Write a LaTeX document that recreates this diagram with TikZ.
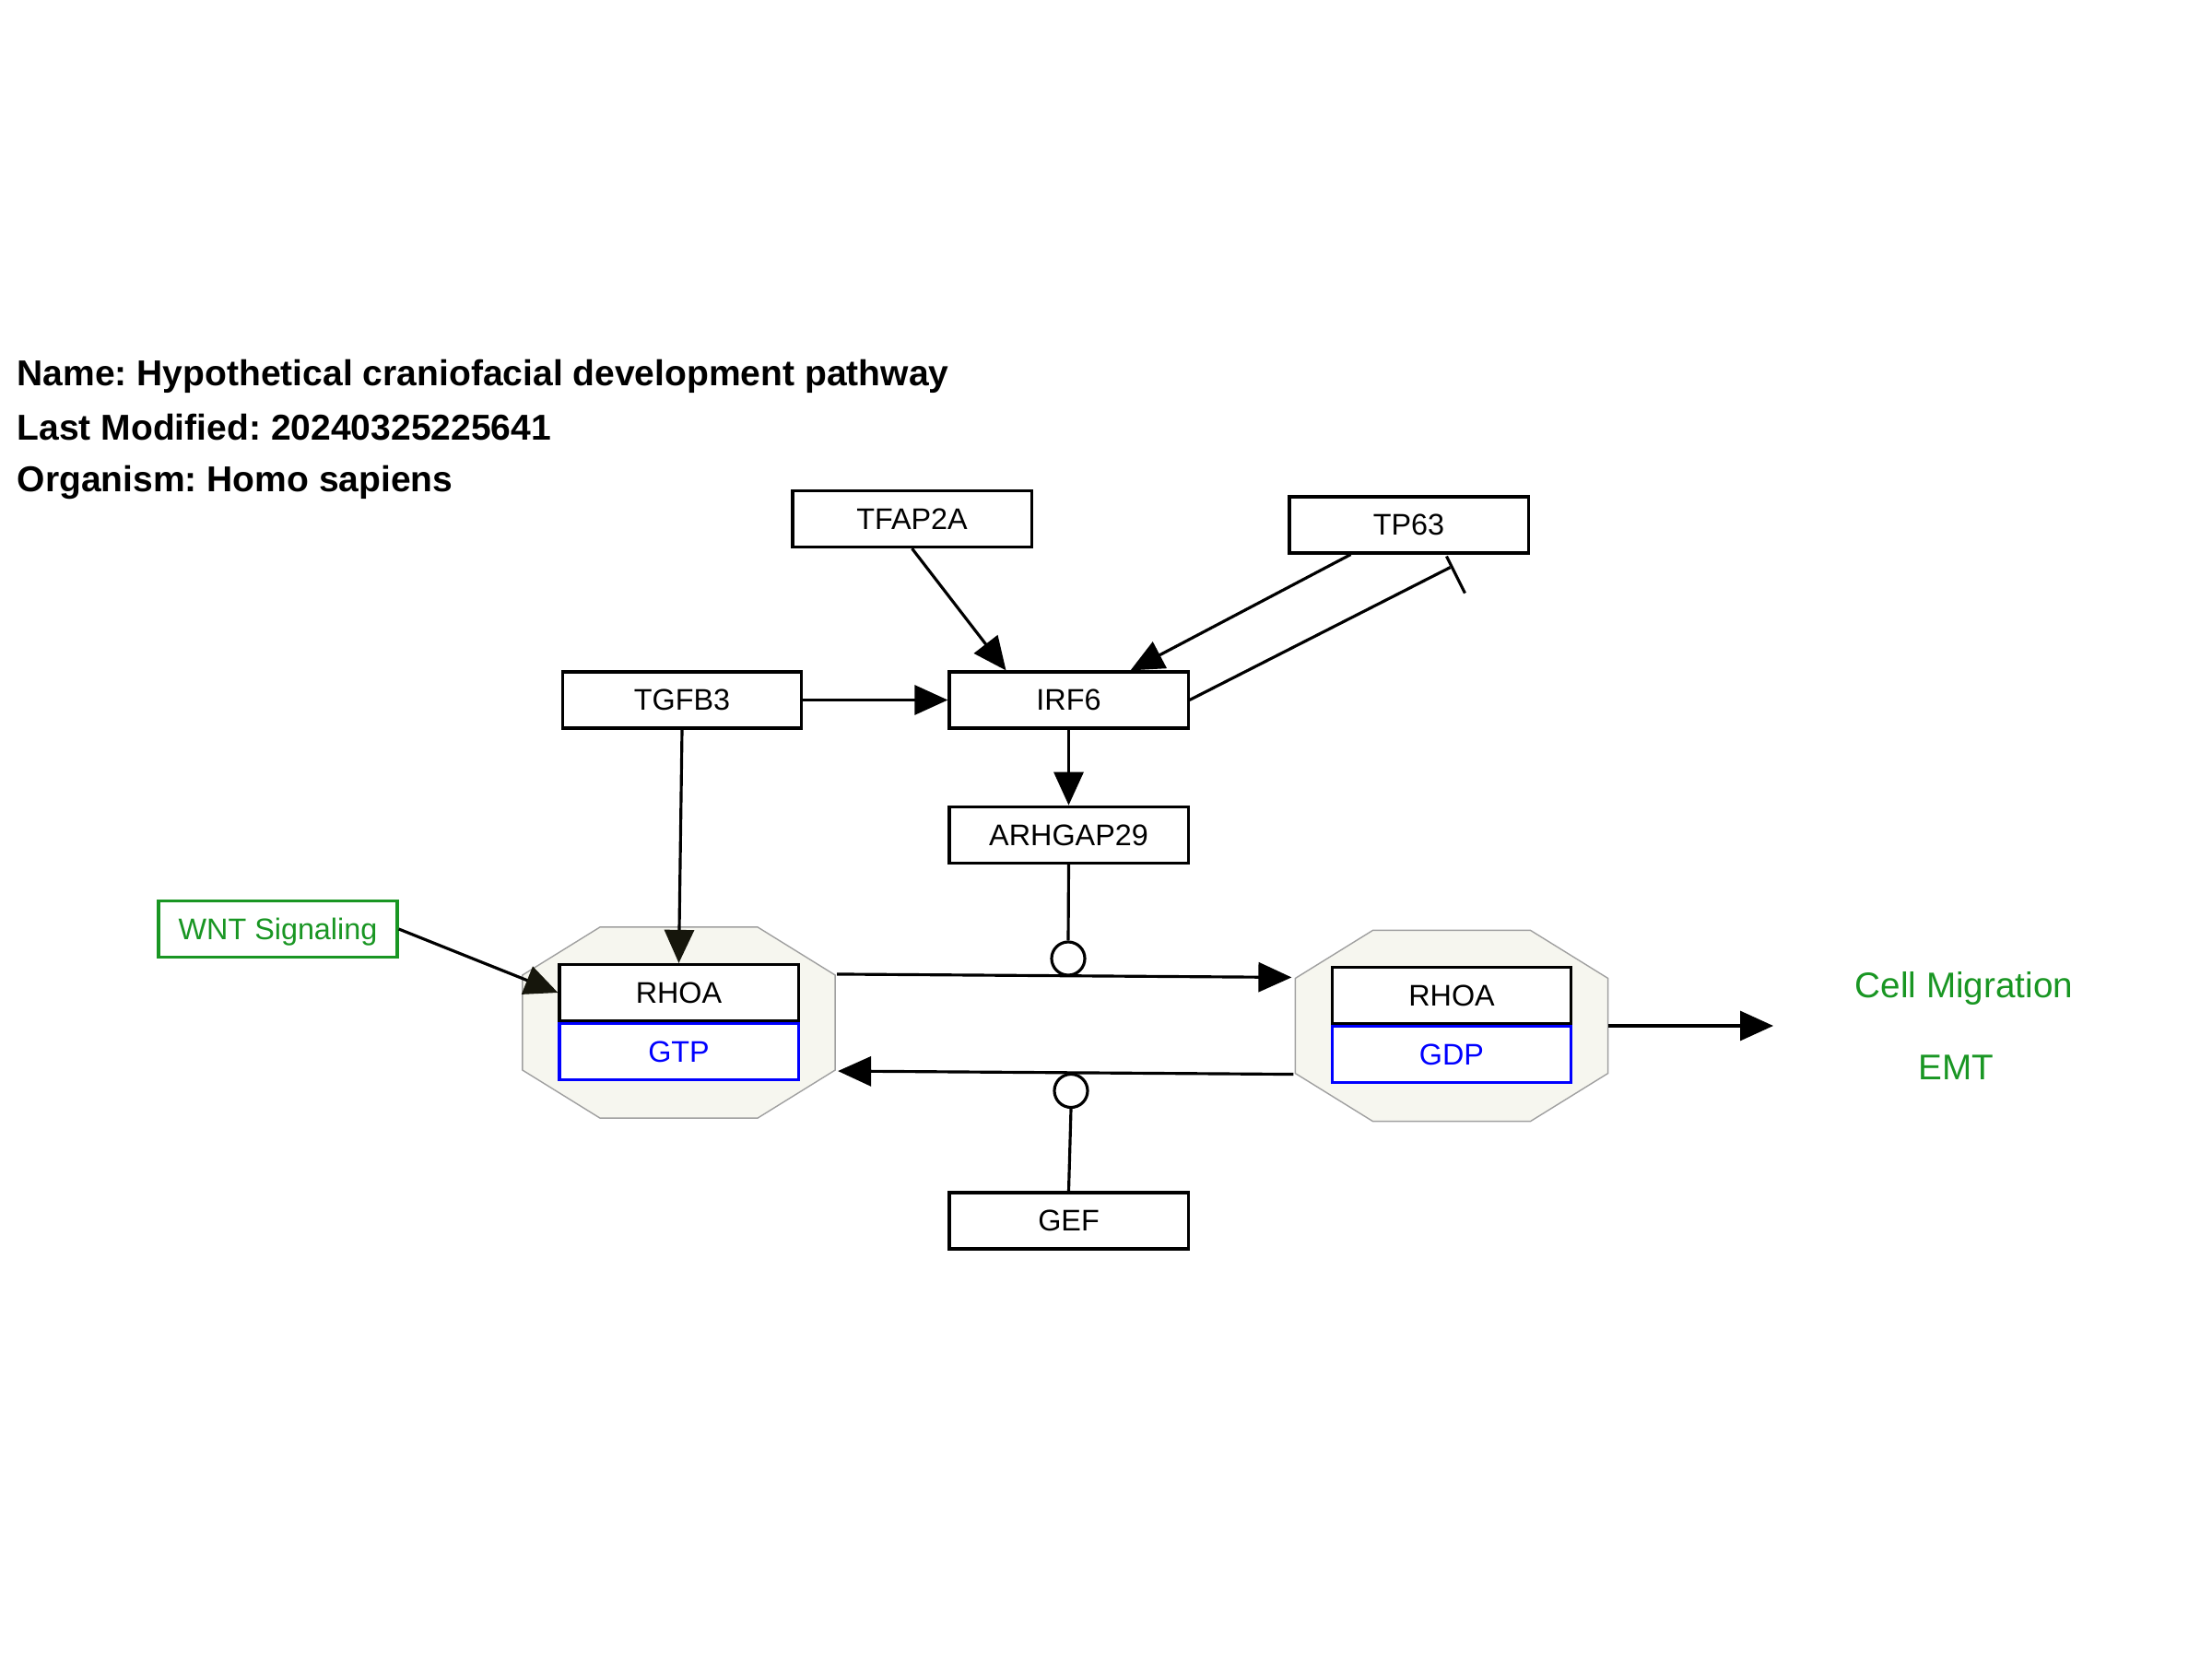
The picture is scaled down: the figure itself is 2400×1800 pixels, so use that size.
\documentclass[tikz,border=0pt]{standalone}
\usepackage{fontspec}
\setmainfont{Liberation Sans}
\usepackage{tikz}
\usetikzlibrary{arrows.meta, positioning, calc}
\usepackage{xcolor}
\frenchspacing
\definecolor{cGreen}{RGB}{25,150,35}
\definecolor{cBlue}{RGB}{0,0,255}
\definecolor{cCplx}{RGB}{246,246,239}
\definecolor{cCplxLine}{RGB}{160,160,160}
\definecolor{cTip}{RGB}{22,22,12}
\tikzset{
  genebox/.style={rectangle, draw=black, line width=0.9pt, fill=white,
                  minimum width=2.59cm, minimum height=0.61cm, inner sep=0pt,
                  text depth=0pt, font=\fontsize{9.2}{11}\selectfont},
  statebox/.style={genebox, draw=cBlue, text=cBlue},
  pathbox/.style={genebox, draw=cGreen, text=cGreen},
  cplxnode/.style={rectangle, minimum width=3.39cm, minimum height=2.07cm,
                   inner sep=0pt, outer sep=0pt},
  cplxshape/.style={fill=cCplx, draw=cCplxLine, line width=0.4pt},
  catnode/.style={circle, draw=black, line width=0.9pt, fill=white,
                  minimum size=0.36cm, inner sep=0pt},
  labelnode/.style={anchor=base, inner sep=0pt, text=cGreen,
                    font=\fontsize{11}{13}\selectfont},
  headnode/.style={anchor=base west, inner sep=0pt,
                   font=\fontsize{11.1}{13}\selectfont\bfseries},
  arrow/.style={-{Triangle[length=0.36cm, width=0.32cm]}, line width=0.9pt},
  darkarrow/.style={-{Triangle[length=0.36cm, width=0.32cm, color=cTip]},
                    line width=0.9pt},
  plainline/.style={line width=0.9pt}
}

\begin{document}
\begin{tikzpicture}[x=0.01cm, y=-0.01cm]
  \useasboundingbox (0,0) rectangle (2400,1800);

  % Header
  \node[headnode] (hname) at (18,418) {Name: Hypothetical craniofacial development pathway};
  \node[headnode] (hdate) at (18,477) {Last Modified: 20240325225641};
  \node[headnode] (horg)  at (18,533) {Organism: Homo sapiens};

  % Complexes
  \node[cplxnode] (gtpcx) at (736.5,1109.5) {};
  \node[cplxnode] (gdpcx) at (1575,1113) {};
  \foreach \c in {gtpcx, gdpcx} {
    \draw[cplxshape] ($(\c.north west)+(84,0)$) -- ($(\c.north east)+(-84,0)$)
      -- ($(\c.north east)+(0,52)$) -- ($(\c.south east)+(0,-52)$)
      -- ($(\c.south east)+(-84,0)$) -- ($(\c.south west)+(84,0)$)
      -- ($(\c.south west)+(0,-52)$) -- ($(\c.north west)+(0,52)$) -- cycle;
  }
  \node[genebox] (rhoaA) at (736.5,1077) {RHOA};
  \node[statebox, below=0pt of rhoaA] (gtp) {GTP};
  \node[genebox] (rhoaB) at (1575,1080) {RHOA};
  \node[statebox, below=0pt of rhoaB] (gdp) {GDP};

  % Genes
  \node[genebox] (tfap2a) at (989.5,563) {TFAP2A};
  \node[genebox] (tp63) at (1528.5,569.5) {TP63};
  \node[genebox] (tgfb3) at (740,759.5) {TGFB3};
  \node[genebox] (irf6) at (1159.5,759.5) {IRF6};
  \node[genebox, below=0.82cm of irf6] (arhgap) {ARHGAP29};
  \node[genebox] (gef) at (1159.5,1324.5) {GEF};
  \node[pathbox] (wnt) at (301.5,1008) {WNT Signaling};

  % Outcomes
  \node[labelnode] (migr) at (2131,1082) {Cell Migration};
  \node[labelnode] (emt) at (2122,1171) {EMT};
  \coordinate (migEnd) at (1924,1113);

  % Regulation
  \draw[arrow] (tfap2a.south) -- ($(irf6.north)+(-68,0)$);
  \draw[arrow] ($(tp63.south)+(-63,0)$) -- ($(irf6.north)+(67,0)$);
  \draw[plainline] (irf6.east) -- ($(tp63.south)+(45,14)$);
  \draw[plainline] ($(tp63.south)+(41,2)$) -- ($(tp63.south)+(61,42)$);
  \draw[arrow] (tgfb3.east) -- (irf6.west);
  \draw[arrow] (irf6.south) -- (arhgap.north);
  \draw[darkarrow] (tgfb3.south) -- (rhoaA.north);
  \draw[darkarrow] (wnt.east) -- (rhoaA.west);

  % GTP/GDP cycle
  \draw[arrow] ($(gtpcx.north east)+(2,51)$) -- ($(gdpcx.north west)+(-4,51)$);
  \draw[arrow] ($(gdpcx.south west)+(-2,-51)$) -- ($(gtpcx.south east)+(3,-51)$);
  \node[catnode] (cat1) at (1159,1040) {};
  \node[catnode] (cat2) at (1162,1183.5) {};
  \draw[plainline] (arhgap.south) -- (cat1.north);
  \draw[plainline] (gef.north) -- (cat2.south);
  \draw[arrow] (gdpcx.east) -- (migEnd);
\end{tikzpicture}
\end{document}
